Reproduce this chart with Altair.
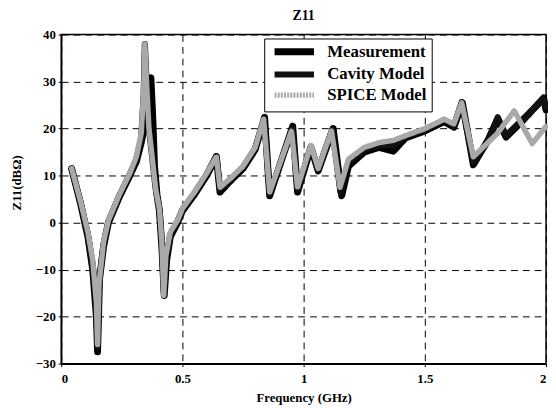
import altair as alt
import pandas as pd

series_names = ["Measurement", "Cavity Model", "SPICE Model"]

meas_f = [0.043, 0.08, 0.11, 0.13, 0.145, 0.150, 0.158, 0.175, 0.195, 0.24, 0.283, 0.31, 0.33, 0.35,
          0.365, 0.370, 0.378, 0.385, 0.395, 0.405, 0.415, 0.425, 0.435, 0.45, 0.48, 0.50, 0.55, 0.60,
          0.64, 0.655, 0.70, 0.75, 0.80, 0.839, 0.86, 0.955, 0.975, 1.03, 1.06, 1.122, 1.157, 1.185,
          1.25, 1.31, 1.37, 1.42, 1.50, 1.58, 1.62, 1.655, 1.70, 1.76, 1.80, 1.835, 1.90, 1.99, 2.0]
meas_v = [11.5, 4, -3, -10, -20, -27.5, -12, -5, 0, 5.5, 10, 13, 17, 22,
          28, 30.8, 22, 12, 6, 2.5, -5, -15.5, -8, -3, 0, 2.5, 6, 10,
          14, 6.5, 9, 11.5, 15.5, 22.4, 5.7, 20.5, 6.5, 16, 11, 20, 5.7, 12,
          15, 16, 15.2, 18, 19.5, 21.5, 20.3, 25.5, 12.3, 17.5, 22, 18.2, 21.5, 26.5, 24]

cav_f = [0.043, 0.08, 0.11, 0.13, 0.145, 0.150, 0.157, 0.175, 0.195, 0.24, 0.283, 0.31, 0.33, 0.34,
         0.345, 0.352, 0.362, 0.375, 0.39, 0.405, 0.415, 0.424, 0.433, 0.45, 0.48, 0.50, 0.55, 0.60,
         0.64, 0.655, 0.70, 0.75, 0.80, 0.838, 0.86, 0.954, 0.975, 1.03, 1.06, 1.118, 1.152, 1.185,
         1.25, 1.31, 1.37, 1.42, 1.50, 1.58, 1.62, 1.652, 1.70, 1.76, 1.801, 1.835, 1.90, 1.99, 2.0]
cav_v = [11.3, 4.3, -2.5, -9, -18, -26.5, -12.5, -4.5, 0.3, 5.8, 10.3, 13.5, 18, 27,
         38, 30, 20, 14, 7, 3, -4.5, -15, -7.5, -2.5, 0.3, 2.8, 6.3, 10.3,
         14.2, 7, 9.3, 11.8, 15.8, 22, 6, 20, 7, 16.2, 11.2, 19.8, 6.5, 12.8,
         15.5, 16.5, 16.5, 18.3, 19.8, 21.8, 20.6, 25.6, 13, 17.2, 22.4, 18.5, 21.8, 26.2, 24.5]

spice_f = [0.043, 0.08, 0.11, 0.13, 0.145, 0.150, 0.156, 0.175, 0.195, 0.24, 0.283, 0.31, 0.33, 0.34,
           0.345, 0.352, 0.362, 0.375, 0.39, 0.405, 0.415, 0.423, 0.432, 0.45, 0.48, 0.50, 0.55, 0.60,
           0.64, 0.655, 0.70, 0.75, 0.80, 0.835, 0.86, 0.95, 0.975, 1.03, 1.06, 1.115, 1.15, 1.185,
           1.25, 1.31, 1.37, 1.42, 1.50, 1.58, 1.62, 1.652, 1.70, 1.76, 1.80, 1.869, 1.943, 2.0]
spice_v = [11.5, 4.5, -2, -8, -17, -26, -13, -4, 0.5, 6, 10.5, 14, 19, 28,
           38, 30, 20, 14, 7, 3, -4, -15.5, -7, -2, 0.5, 3, 6.5, 10.5,
           14, 7.5, 9.5, 12, 16, 22, 6.5, 19.5, 7.5, 16.5, 11.5, 19.5, 7.5, 13.5,
           16, 17, 17.5, 18.5, 20, 22, 21, 25.5, 14, 17, 19, 23.8, 16.8, 20.5]

x_ticks = [0, 0.5, 1, 1.5, 2]
y_ticks = [-30, -20, -10, 0, 10, 20, 30, 40]

rows = []
for name, fs, vs in [(series_names[0], meas_f, meas_v),
                     (series_names[1], cav_f, cav_v),
                     (series_names[2], spice_f, spice_v)]:
    for i, (f, v) in enumerate(zip(fs, vs)):
        rows.append({"series": name, "f": f, "v": v, "i": i})
df = pd.DataFrame(rows)

FONT = "Liberation Serif"

leg = alt.Legend(
    orient="none", legendX=206, legendY=4, title=None,
    symbolType="M-1,0H7", symbolSize=100,
    labelFont=FONT, labelFontSize=17, labelFontWeight="bold", labelColor="black",
    labelOffset=40, strokeColor="black", fillColor="white",
    padding=5, rowPadding=-6, symbolOffset=2,
)

chart = alt.Chart(df).mark_line(strokeJoin="round", strokeCap="round").encode(
    x=alt.X("f:Q", scale=alt.Scale(domain=[0, 2], nice=False),
            axis=alt.Axis(values=x_ticks, title="Frequency (GHz)", labelExpr="datum.value == 0 ? '0' : format(datum.value, '~g')")),
    y=alt.Y("v:Q", scale=alt.Scale(domain=[-30, 40], nice=False),
            axis=alt.Axis(values=y_ticks, title="Z11(dBΩ)", titleX=-41, titleY=150, titleBaseline="alphabetic")),
    order="i:Q",
    color=alt.Color("series:N", scale=alt.Scale(domain=series_names, range=["#000000", "#111111", "#a9a9a9"]), legend=leg),
    strokeWidth=alt.StrokeWidth("series:N", scale=alt.Scale(domain=series_names, range=[7, 5.5, 2.5]), legend=leg),
    strokeDash=alt.StrokeDash("series:N", scale=alt.Scale(domain=series_names, range=[[1, 0], [1, 0], [2, 1.2]]), legend=leg),
).properties(
    width=492, height=334,
    title=alt.Title("Z11", font=FONT, fontSize=14, fontWeight="bold", color="black", offset=6),
    autosize=alt.AutoSizeParams(type="none"),
    padding={"left": 54, "top": 24, "right": 2, "bottom": 40},
).configure_view(
    stroke="black", strokeWidth=1.5
).configure_axis(
    labelFont=FONT, labelFontSize=13, labelFontWeight="bold", labelColor="black",
    titleFont=FONT, titleFontSize=13, titleFontWeight="bold", titleColor="black",
    domainColor="black", domainWidth=1.5, tickColor="black", tickSize=3,
    grid=True, gridColor="black", gridDash=[7, 5], gridOpacity=1, gridWidth=1,
).configure_axisY(
    labelPadding=3
).configure_axisX(
    labelPadding=6, titlePadding=6
)

chart.save("out.html", embed_options={"renderer": "svg", "actions": False})
